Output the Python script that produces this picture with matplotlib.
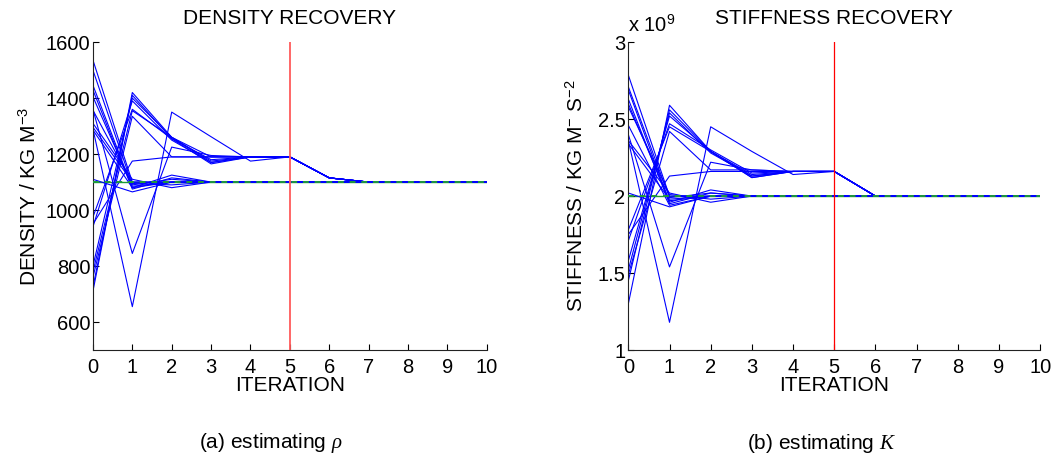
import matplotlib
matplotlib.use("Agg")
import matplotlib.pyplot as plt
import numpy as np

plt.rcParams['font.family'] = ['Liberation Sans', 'DejaVu Sans']
plt.rcParams['mathtext.fontset'] = 'custom'
plt.rcParams['mathtext.rm'] = 'Liberation Sans'
plt.rcParams['mathtext.it'] = 'Liberation Serif:italic'
plt.rcParams['mathtext.sf'] = 'Liberation Sans'

iterations = list(range(11))

# Density estimates per run (kg m^-3), iterations 0..10
density_runs = [
    [710, 1420, 1260, 1170, 1190, 1190, 1115, 1100, 1100, 1100, 1100],
    [725, 1410, 1255, 1165, 1190, 1190, 1115, 1100, 1100, 1100, 1100],
    [800, 1400, 1260, 1175, 1190, 1190, 1115, 1100, 1100, 1100, 1100],
    [940, 1390, 1250, 1170, 1190, 1190, 1115, 1100, 1100, 1100, 1100],
    [975, 1360, 1255, 1180, 1190, 1190, 1115, 1100, 1100, 1100, 1100],
    [780, 1355, 1260, 1190, 1190, 1190, 1115, 1100, 1100, 1100, 1100],
    [760, 1335, 1190, 1190, 1190, 1190, 1115, 1100, 1100, 1100, 1100],
    [1536, 1100, 1100, 1100, 1100, 1100, 1100, 1100, 1100, 1100, 1100],
    [1500, 1090, 1110, 1100, 1100, 1100, 1100, 1100, 1100, 1100, 1100],
    [1446, 1080, 1125, 1100, 1100, 1100, 1100, 1100, 1100, 1100, 1100],
    [1429, 1075, 1115, 1100, 1100, 1100, 1100, 1100, 1100, 1100, 1100],
    [1405, 1085, 1100, 1100, 1100, 1100, 1100, 1100, 1100, 1100, 1100],
    [1357, 1095, 1090, 1100, 1100, 1100, 1100, 1100, 1100, 1100, 1100],
    [1310, 1110, 1080, 1100, 1100, 1100, 1100, 1100, 1100, 1100, 1100],
    [1296, 1100, 1100, 1100, 1100, 1100, 1100, 1100, 1100, 1100, 1100],
    [1286, 1080, 1100, 1100, 1100, 1100, 1100, 1100, 1100, 1100, 1100],
    [1110, 1065, 1100, 1100, 1100, 1100, 1100, 1100, 1100, 1100, 1100],
    [1360, 845, 1225, 1195, 1190, 1190, 1115, 1100, 1100, 1100, 1100],
    [1290, 655, 1350, 1262, 1175, 1190, 1115, 1100, 1100, 1100, 1100],
    [950, 1175, 1190, 1190, 1190, 1190, 1115, 1100, 1100, 1100, 1100],
]
density_true = 1100

# Stiffness estimates per run (x 1e9), iterations 0..10
stiffness_runs = [
    [1.30, 2.59, 2.29, 2.13, 2.16, 2.16, 2.0, 2.0, 2.0, 2.0, 2.0],
    [1.45, 2.56, 2.29, 2.12, 2.16, 2.16, 2.0, 2.0, 2.0, 2.0, 2.0],
    [1.52, 2.54, 2.28, 2.13, 2.16, 2.16, 2.0, 2.0, 2.0, 2.0, 2.0],
    [1.58, 2.52, 2.29, 2.14, 2.16, 2.16, 2.0, 2.0, 2.0, 2.0, 2.0],
    [1.71, 2.47, 2.30, 2.15, 2.16, 2.16, 2.0, 2.0, 2.0, 2.0, 2.0],
    [1.78, 2.45, 2.29, 2.12, 2.16, 2.16, 2.0, 2.0, 2.0, 2.0, 2.0],
    [1.49, 2.42, 2.17, 2.17, 2.16, 2.16, 2.0, 2.0, 2.0, 2.0, 2.0],
    [2.786, 2.00, 2.00, 2.0, 2.0, 2.0, 2.0, 2.0, 2.0, 2.0, 2.0],
    [2.71, 1.99, 2.02, 2.0, 2.0, 2.0, 2.0, 2.0, 2.0, 2.0, 2.0],
    [2.69, 1.96, 2.04, 2.0, 2.0, 2.0, 2.0, 2.0, 2.0, 2.0, 2.0],
    [2.63, 1.95, 2.02, 2.0, 2.0, 2.0, 2.0, 2.0, 2.0, 2.0, 2.0],
    [2.60, 1.97, 2.00, 2.0, 2.0, 2.0, 2.0, 2.0, 2.0, 2.0, 2.0],
    [2.58, 2.01, 1.98, 2.0, 2.0, 2.0, 2.0, 2.0, 2.0, 2.0, 2.0],
    [2.46, 1.94, 2.00, 2.0, 2.0, 2.0, 2.0, 2.0, 2.0, 2.0, 2.0],
    [2.36, 2.02, 1.96, 2.0, 2.0, 2.0, 2.0, 2.0, 2.0, 2.0, 2.0],
    [2.34, 1.98, 2.00, 2.0, 2.0, 2.0, 2.0, 2.0, 2.0, 2.0, 2.0],
    [2.02, 1.93, 2.00, 2.0, 2.0, 2.0, 2.0, 2.0, 2.0, 2.0, 2.0],
    [2.40, 1.54, 2.22, 2.17, 2.16, 2.16, 2.0, 2.0, 2.0, 2.0, 2.0],
    [2.36, 1.18, 2.45, 2.29, 2.14, 2.16, 2.0, 2.0, 2.0, 2.0, 2.0],
    [1.75, 2.13, 2.16, 2.16, 2.16, 2.16, 2.0, 2.0, 2.0, 2.0, 2.0],
]
stiffness_true = 2.0

switch_iter = 5
density_yticks = [600, 800, 1000, 1200, 1400, 1600]
stiffness_yticks = [1, 1.5, 2, 2.5, 3]
stiffness_yticklabels = ['1', '1.5', '2', '2.5', '3']

fig = plt.figure(figsize=(10.56, 4.63), dpi=100)
ax1 = fig.add_axes([0.088, 0.244, 0.373, 0.665])
ax2 = fig.add_axes([0.595, 0.244, 0.390, 0.665])

TICK_FS = 14.5
LABEL_FS = 15
TITLE_FS = 15

def style(ax):
    ax.spines['top'].set_visible(False)
    ax.spines['right'].set_visible(False)
    ax.spines['left'].set_color('#222222')
    ax.spines['bottom'].set_color('#222222')
    ax.tick_params(direction='in', length=4, labelsize=TICK_FS, colors='black',
                   width=0.8)
    ax.tick_params(axis='x', pad=6)
    ax.tick_params(axis='y', pad=2)
    ax.set_xlim(0, 10)
    ax.set_xticks(iterations)
    ax.set_xlabel('ITERATION', fontsize=LABEL_FS, labelpad=-1)

def draw(ax, runs, true_val, vcolor, vlw):
    ax.plot([0, 10], [true_val, true_val], color='#1f9a3a', lw=1.0, zorder=1)
    for r in runs:
        ax.plot(iterations, r, color='#0000ff', lw=0.8, zorder=2)
    ax.plot([0, 10], [true_val, true_val], color='#1f9a3a', lw=1.4,
            ls=(0, (3, 3)), zorder=4)
    ax.axvline(switch_iter, color=vcolor, lw=vlw, zorder=5)

draw(ax1, density_runs, density_true, '#ff5a5a', 1.3)
style(ax1)
ax1.set_ylim(500, 1600)
ax1.set_yticks(density_yticks)
ax1.set_title('DENSITY RECOVERY', fontsize=TITLE_FS, pad=13)
ax1.set_ylabel(r'DENSITY / KG M$^{-3}$', fontsize=LABEL_FS, labelpad=4)

draw(ax2, stiffness_runs, stiffness_true, '#ff0000', 0.9)
style(ax2)
ax2.set_ylim(1, 3)
ax2.set_yticks(stiffness_yticks)
ax2.set_yticklabels(stiffness_yticklabels)
ax2.set_title('STIFFNESS RECOVERY', fontsize=TITLE_FS, pad=13)
ax2.set_ylabel(r'STIFFNESS / KG M$^{-}$ S$^{-2}$', fontsize=LABEL_FS, labelpad=8)
ax2.text(0.0, 1.02, r'x 10$^{9}$', transform=ax2.transAxes, fontsize=TICK_FS,
         ha='left', va='bottom')

fig.text(0.256, 0.043, r'(a) estimating $\it{\rho}$', fontsize=LABEL_FS,
         ha='center', va='center')
fig.text(0.778, 0.043, r'(b) estimating $\it{K}$', fontsize=LABEL_FS,
         ha='center', va='center')

fig.savefig('out.png', dpi=100)
